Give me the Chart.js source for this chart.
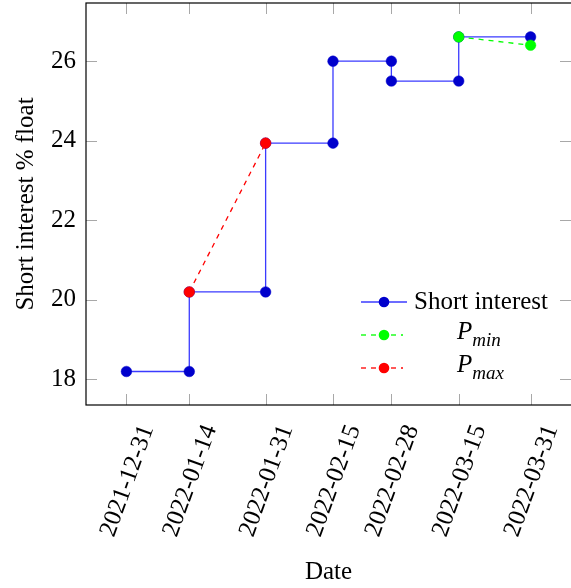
<!DOCTYPE html>
<html>
<head>
<meta charset="utf-8">
<script src="https://cdn.jsdelivr.net/npm/chart.js@4.4.0/dist/chart.umd.min.js"></script>
<style>
body { margin: 0; background: #fff; }
#wrap { width: 571px; height: 588px; }
</style>
</head>
<body>
<div id="wrap"><canvas id="myChart"></canvas></div>
<script>
// data
let tickDates = ['2021-12-31', '2022-01-14', '2022-01-31', '2022-02-15', '2022-02-28', '2022-03-15', '2022-03-31'];
let yTicks = [18, 20, 22, 24, 26];

let siDates = ['2021-12-31', '2022-01-14', '2022-01-14', '2022-01-31', '2022-01-31', '2022-02-15',
               '2022-02-15', '2022-02-28', '2022-02-28', '2022-03-15', '2022-03-15', '2022-03-31'];
let siValues = [18.2, 18.2, 20.2, 20.2, 23.94, 23.94, 26.0, 26.0, 25.5, 25.5, 26.61, 26.61];

let pMinDates = ['2022-03-15', '2022-03-31'];
let pMinValues = [26.61, 26.40];

let pMaxDates = ['2022-01-14', '2022-01-31'];
let pMaxValues = [20.2, 23.94];

let FONT = 'Liberation Serif';
let FS = 25;

let day0 = Date.parse('2021-12-31');
function toDay(d) { return (Date.parse(d) - day0) / 86400000; }
function toPoints(dates, values) {
  return dates.map((d, i) => ({ x: toDay(d), y: values[i] }));
}
let tickDays = tickDates.map(toDay);

// box + inward gray ticks on all four sides (pgfplots look)
let framePlugin = {
  id: 'frame',
  beforeDatasetsDraw(chart) {
    let ctx = chart.ctx, a = chart.chartArea;
    let xs = chart.scales.x, ys = chart.scales.y;
    let len = 11;
    ctx.save();
    ctx.strokeStyle = '#a8a8a8';
    ctx.lineWidth = 1;
    ctx.beginPath();
    xs.ticks.forEach(t => {
      let px = Math.round(xs.getPixelForValue(t.value)) + 0.5;
      ctx.moveTo(px, a.bottom); ctx.lineTo(px, a.bottom - len);
      ctx.moveTo(px, a.top); ctx.lineTo(px, a.top + len);
    });
    ys.ticks.forEach(t => {
      let py = Math.round(ys.getPixelForValue(t.value)) + 0.5;
      ctx.moveTo(a.left, py); ctx.lineTo(a.left + len, py);
      ctx.moveTo(a.right, py); ctx.lineTo(a.right - len, py);
    });
    ctx.stroke();
    ctx.strokeStyle = '#000';
    ctx.lineWidth = 1.2;
    ctx.strokeRect(a.left, a.top, a.right - a.left + 2, a.bottom - a.top);
    ctx.restore();
  }
};

// legend with subscripts, drawn by hand
let legendPlugin = {
  id: 'texLegend',
  afterDraw(chart) {
    let ctx = chart.ctx;
    let rows = [
      { y: 302, color: '#3b3bff', mark: '#0000cc', dash: [], x2: 407, main: 'Short interest', sub: '', tx: 414 },
      { y: 335, color: '#00ff00', mark: '#00ff00', dash: [5, 5], x2: 403, main: 'P', sub: 'min', tx: 457 },
      { y: 368, color: '#ff0000', mark: '#ff0000', dash: [5, 5], x2: 403, main: 'P', sub: 'max', tx: 457 }
    ];
    ctx.save();
    rows.forEach(r => {
      ctx.strokeStyle = r.color;
      ctx.lineWidth = 1.3;
      ctx.setLineDash(r.dash);
      ctx.beginPath();
      ctx.moveTo(361, r.y); ctx.lineTo(r.x2, r.y);
      ctx.stroke();
      ctx.setLineDash([]);
      ctx.fillStyle = r.mark;
      ctx.beginPath();
      ctx.arc(384, r.y, 5.3, 0, Math.PI * 2);
      ctx.fill();
      ctx.fillStyle = '#000';
      ctx.textBaseline = 'middle';
      ctx.textAlign = 'left';
      if (r.sub) {
        ctx.font = 'italic ' + FS + 'px "' + FONT + '"';
        ctx.fillText(r.main, r.tx, r.y - 3);
        let w = ctx.measureText(r.main).width;
        ctx.font = 'italic 19px "' + FONT + '"';
        ctx.fillText(r.sub, r.tx + w, r.y + 6);
      } else {
        ctx.font = FS + 'px "' + FONT + '"';
        ctx.fillText(r.main, r.tx, r.y);
      }
    });
    ctx.restore();
  }
};

let ctx = document.getElementById('myChart').getContext('2d');

let chart = new Chart(ctx, {
  type: 'line',
  data: {
    datasets: [{
      label: 'Short interest',
      data: toPoints(siDates, siValues),
      borderColor: '#3b3bff',
      borderWidth: 1.3,
      pointBackgroundColor: '#0000cc',
      pointBorderColor: '#0000cc',
      pointRadius: 5.3,
      pointBorderWidth: 0.5,
      order: 3
    }, {
      label: 'P_min',
      data: toPoints(pMinDates, pMinValues),
      borderColor: '#00ff00',
      borderWidth: 1.3,
      borderDash: [5, 5],
      pointBackgroundColor: '#00ff00',
      pointBorderColor: '#00ff00',
      pointRadius: 5.3,
      pointBorderWidth: 0.5,
      order: 2
    }, {
      label: 'P_max',
      data: toPoints(pMaxDates, pMaxValues),
      borderColor: '#ff0000',
      borderWidth: 1.3,
      borderDash: [5, 5],
      pointBackgroundColor: '#ff0000',
      pointBorderColor: '#ff0000',
      pointRadius: 5.3,
      pointBorderWidth: 0.5,
      order: 1
    }]
  },
  options: {
    responsive: true,
    maintainAspectRatio: false,
    animation: false,
    layout: { autoPadding: false, padding: { top: 3, right: 0, left: 0, bottom: 0 } },
    plugins: {
      legend: { display: false },
      tooltip: { enabled: false }
    },
    scales: {
      x: {
        type: 'linear',
        min: -9,
        max: 99,
        grid: { display: false, drawTicks: false },
        border: { display: false },
        afterBuildTicks: axis => { axis.ticks = tickDays.map(v => ({ value: v })); },
        afterFit: scale => {
          scale.height = 183;
          scale.paddingLeft = 0; scale.paddingRight = 0;
          scale.paddingTop = 0; scale.paddingBottom = 0;
        },
        ticks: {
          autoSkip: false,
          minRotation: 70,
          maxRotation: 70,
          padding: 16,
          labelOffset: 21,
          color: '#000',
          font: { family: FONT, size: FS },
          callback: v => tickDates[tickDays.indexOf(v)]
        },
        title: {
          display: true,
          text: 'Date',
          color: '#000',
          font: { family: FONT, size: FS },
          padding: { top: 0, bottom: 1 }
        }
      },
      y: {
        min: 17.358,
        max: 27.462,
        grid: { display: false, drawTicks: false },
        border: { display: false },
        afterBuildTicks: axis => { axis.ticks = yTicks.map(v => ({ value: v })); },
        afterFit: scale => {
          scale.width = 86;
          scale.paddingTop = 0; scale.paddingBottom = 0;
        },
        ticks: {
          padding: 10,
          color: '#000',
          font: { family: FONT, size: FS }
        },
        title: {
          display: true,
          text: 'Short interest % float',
          color: '#000',
          font: { family: FONT, size: FS },
          padding: { top: 11, bottom: 0 }
        }
      }
    }
  },
  plugins: [framePlugin, legendPlugin]
});
</script>
</body>
</html>
